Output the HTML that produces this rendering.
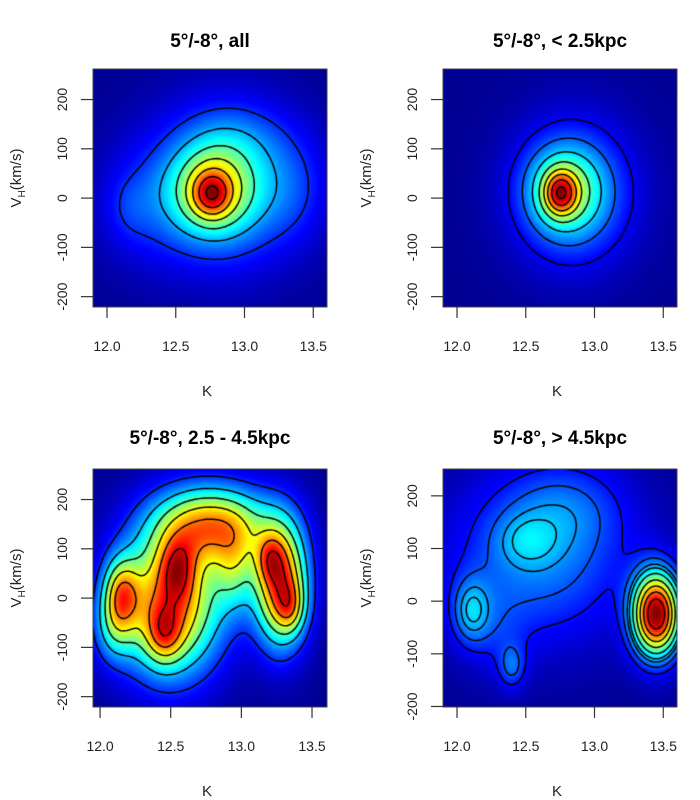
<!DOCTYPE html>
<html><head><meta charset="utf-8"><style>
body{margin:0;background:#fff;}
#wrap{position:relative;width:700px;height:800px;font-family:"Liberation Sans",sans-serif;}
canvas,svg{position:absolute;left:0;top:0;}
</style></head><body>
<div id="wrap">
<canvas id="cv" width="700" height="800"></canvas>
<svg id="sv" width="700" height="800"></svg>
</div>
<script>
// Panel titles
const titles = ["5°/-8°, all", "5°/-8°, < 2.5kpc", "5°/-8°, 2.5 - 4.5kpc", "5°/-8°, > 4.5kpc"];
const xTicks = [12.0, 12.5, 13.0, 13.5];
const xTickLabels = ["12.0", "12.5", "13.0", "13.5"];
const yTicks = [-200, -100, 0, 100, 200];
const yTickLabels = ["-200", "-100", "0", "100", "200"];
// Gaussian components [K, V, amplitude, sigmaK, sigmaV]
const blobsAll = [[12.76,8,0.3,0.09,30],[12.77,15,0.4,0.2,60],[12.85,25,0.3,0.35,110],[12.3,-10,0.1,0.25,90],[13.35,20,0.1,0.2,80],[12.95,120,0.08,0.25,50],[12.15,-20,0.06,0.12,50]];
const blobsNear = [[12.75,10,0.45,0.08,30],[12.78,15,0.35,0.18,58],[12.85,10,0.28,0.3,100]];
const blobsMid = [[12.5,-10,0.65,0.25,100],[12.8,150,0.55,0.28,55],[13.28,30,0.7,0.13,85],[13.2,80,0.2,0.07,35],[13.35,-20,0.2,0.07,35],[12.55,60,0.25,0.09,45],[12.45,-75,0.25,0.09,40],[12.15,10,0.4,0.09,50],[12.1,-60,0.2,0.1,50],[12.95,60,0.25,0.1,60]];
const blobsFar = [[13.45,-25,0.85,0.12,55],[12.6,80,0.2,0.45,110],[12.8,180,0.1,0.3,60],[12.5,115,0.09,0.15,35],[12.1,-20,0.2,0.1,45],[12.4,-125,0.14,0.07,30],[12.3,-60,0.06,0.15,60]];
const levelsAll = [0.15,0.28,0.42,0.55,0.68,0.82,0.96];
const levelsNear = [0.1,0.2,0.32,0.45,0.58,0.7,0.83,0.96];
const levelsMid = [0.15,0.3,0.45,0.6,0.75,0.9];
const levelsFar = [0.12,0.19,0.26,0.31,0.4,0.52,0.64,0.76,0.88];

const panels = [
 {blobs:blobsAll,levels:levelsAll,x0:93,y0:69,w:234,h:238,kmin:11.898,kmax:13.6,vmin:-221,vmax:262,title:titles[0],tx:210,ty:40,name:"panel-all"},
 {blobs:blobsNear,levels:levelsNear,x0:443,y0:69,w:234,h:238,kmin:11.898,kmax:13.6,vmin:-221,vmax:262,title:titles[1],tx:560,ty:40,name:"panel-near"},
 {blobs:blobsMid,levels:levelsMid,x0:93,y0:469,w:234,h:238,kmin:11.95,kmax:13.606,vmin:-221,vmax:262,title:titles[2],tx:210,ty:437,name:"panel-mid"},
 {blobs:blobsFar,levels:levelsFar,x0:443,y0:469,w:234,h:238,kmin:11.898,kmax:13.6,vmin:-201,vmax:251,title:titles[3],tx:560,ty:437,name:"panel-far"}
];

function jet(t){
 t=Math.max(0,Math.min(1,t));
 const c=v=>Math.round(255*Math.max(0,Math.min(1,v)));
 const r=1.5-Math.abs(4*t-3), g=1.5-Math.abs(4*t-2), b=1.5-Math.abs(4*t-1);
 return `rgb(${c(r)},${c(g)},${c(b)})`;
}
const ctx=document.getElementById('cv').getContext('2d');
const svg=document.getElementById('sv');
const NS="http://www.w3.org/2000/svg";
function mk(tag,attrs,parent,text){const e=document.createElementNS(NS,tag);for(const k in attrs)e.setAttribute(k,attrs[k]);if(text!==undefined)e.textContent=text;(parent||svg).appendChild(e);return e;}

panels.forEach(p=>{
 const sx=k=>p.x0+(k-p.kmin)/(p.kmax-p.kmin)*p.w;
 const sy=v=>p.y0+(p.vmax-v)/(p.vmax-p.vmin)*p.h;
 const cs=2, nx=Math.ceil(p.w/cs)+1, ny=Math.ceil(p.h/cs)+1;
 const f=[];let mx=0;
 for(let j=0;j<ny;j++){f.push([]);for(let i=0;i<nx;i++){
   const k=p.kmin+(i*cs)/p.w*(p.kmax-p.kmin), v=p.vmax-(j*cs)/p.h*(p.vmax-p.vmin);
   let s=0;p.blobs.forEach(b=>{s+=b[2]*Math.exp(-0.5*((k-b[0])/b[3])**2-0.5*((v-b[1])/b[4])**2);});
   f[j].push(s);if(s>mx)mx=s;}}
 for(let j=0;j<ny;j++)for(let i=0;i<nx;i++)f[j][i]/=mx;
 ctx.save();ctx.beginPath();ctx.rect(p.x0,p.y0,p.w,p.h);ctx.clip();
 for(let j=0;j<ny;j++)for(let i=0;i<nx;i++){ctx.fillStyle=jet(0.02+0.98*f[j][i]);ctx.fillRect(p.x0+i*cs-1,p.y0+j*cs-1,cs+0.5,cs+0.5);}
 ctx.strokeStyle="#000";ctx.lineWidth=1.5;ctx.beginPath();
 p.levels.forEach(L=>{
  for(let j=0;j<ny-1;j++)for(let i=0;i<nx-1;i++){
   const a=f[j][i],b=f[j][i+1],c=f[j+1][i+1],d=f[j+1][i];
   const pts=[];
   const X=i*cs+p.x0,Y=j*cs+p.y0;
   if((a<L)!==(b<L))pts.push([X+cs*(L-a)/(b-a),Y]);
   if((b<L)!==(c<L))pts.push([X+cs,Y+cs*(L-b)/(c-b)]);
   if((d<L)!==(c<L))pts.push([X+cs*(L-d)/(c-d),Y+cs]);
   if((a<L)!==(d<L))pts.push([X,Y+cs*(L-a)/(d-a)]);
   for(let q=0;q+1<pts.length;q+=2){ctx.moveTo(pts[q][0],pts[q][1]);ctx.lineTo(pts[q+1][0],pts[q+1][1]);}
  }});
 ctx.stroke();ctx.restore();

 const g=mk('g',{});
 
 
 const box=mk('rect',{x:p.x0,y:p.y0,width:p.w,height:p.h,fill:'none',stroke:'#444','stroke-width':1},g);
 
 const t=mk('text',{x:p.tx,y:p.ty+7,'text-anchor':'middle','font-size':19,'font-weight':'bold'},g,p.title);
 
 const yb=p.y0+p.h;
 xTicks.forEach((k,n)=>{
  const x=sx(k);
  const tk=mk('line',{x1:x,x2:x,y1:yb,y2:yb+11,stroke:'#333','stroke-width':1.2},g);
  
  const tl=mk('text',{x:x,y:yb+44,'text-anchor':'middle','font-size':14,fill:'#222'},g,xTickLabels[n]);
  
 });
 yTicks.forEach((v,n)=>{
  const y=sy(v);if(y<p.y0-1||y>yb+1)return;
  const tk=mk('line',{x1:p.x0-12,x2:p.x0,y1:y,y2:y,stroke:'#333','stroke-width':1.2},g);
  
  const tl=mk('text',{x:0,y:0,'text-anchor':'middle','font-size':14,fill:'#222',transform:`translate(${p.x0-26},${y}) rotate(-90)`},g,yTickLabels[n]);
  
 });
 const xl=mk('text',{x:p.x0+p.w/2-3,y:yb+89,'text-anchor':'middle','font-size':15,fill:'#222'},g,'K');
 
 const yl=mk('text',{x:0,y:0,'text-anchor':'middle','font-size':15,fill:'#222',transform:`translate(${p.x0-72},${p.y0+p.h/2-10}) rotate(-90)`},g);
 
 mk('tspan',{},yl,'V');mk('tspan',{'font-size':10,dy:4},yl,'H');mk('tspan',{dy:-4},yl,'(km/s)');
});
</script>
</body></html>
